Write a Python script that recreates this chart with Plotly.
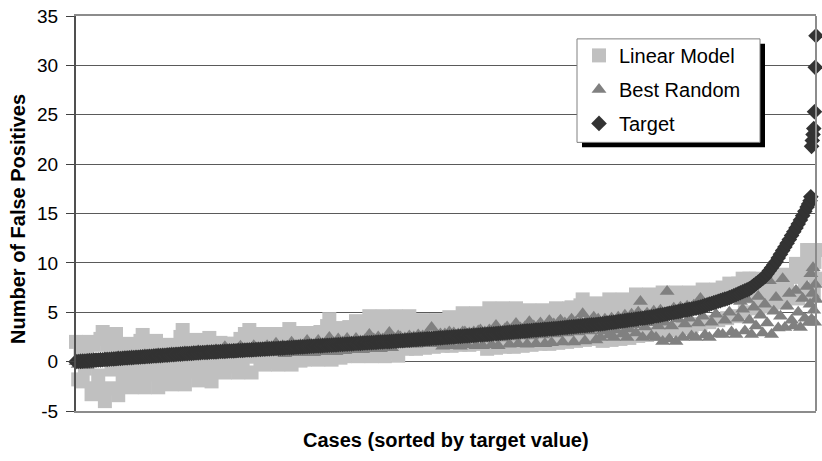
import plotly.graph_objects as go

# ---- data -------------------------------------------------------------
# case rank (cases sorted by target value), sampled every 3rd case plus the last ten
case_rank = list(range(1, 989, 3)) + [990, 992, 993, 994, 995, 996, 997, 998, 999, 1000]

target = [
    0.00, 0.02, 0.03, 0.05, 0.06, 0.08, 0.10, 0.11, 0.13, 0.15,
    0.16, 0.18, 0.19, 0.21, 0.23, 0.24, 0.26, 0.27, 0.29, 0.31,
    0.32, 0.34, 0.36, 0.37, 0.39, 0.40, 0.42, 0.44, 0.45, 0.47,
    0.49, 0.50, 0.52, 0.53, 0.55, 0.57, 0.58, 0.60, 0.61, 0.63,
    0.65, 0.66, 0.68, 0.70, 0.71, 0.73, 0.74, 0.76, 0.78, 0.79,
    0.81, 0.82, 0.84, 0.86, 0.87, 0.89, 0.90, 0.92, 0.93, 0.94,
    0.95, 0.97, 0.98, 0.99, 1.00, 1.02, 1.03, 1.04, 1.05, 1.07,
    1.08, 1.09, 1.10, 1.12, 1.13, 1.14, 1.15, 1.17, 1.18, 1.19,
    1.20, 1.22, 1.23, 1.24, 1.25, 1.27, 1.28, 1.29, 1.30, 1.32,
    1.33, 1.34, 1.35, 1.37, 1.38, 1.40, 1.41, 1.42, 1.44, 1.45,
    1.47, 1.48, 1.49, 1.51, 1.52, 1.54, 1.55, 1.56, 1.58, 1.59,
    1.60, 1.62, 1.63, 1.65, 1.66, 1.67, 1.69, 1.70, 1.72, 1.73,
    1.74, 1.76, 1.77, 1.79, 1.80, 1.81, 1.83, 1.84, 1.85, 1.87,
    1.88, 1.90, 1.91, 1.92, 1.94, 1.95, 1.97, 1.98, 1.99, 2.01,
    2.02, 2.03, 2.05, 2.06, 2.08, 2.09, 2.11, 2.12, 2.14, 2.16,
    2.17, 2.19, 2.21, 2.22, 2.24, 2.26, 2.27, 2.29, 2.31, 2.32,
    2.34, 2.36, 2.37, 2.39, 2.41, 2.42, 2.44, 2.46, 2.47, 2.49,
    2.51, 2.52, 2.54, 2.56, 2.57, 2.59, 2.61, 2.62, 2.64, 2.66,
    2.67, 2.69, 2.71, 2.73, 2.75, 2.76, 2.78, 2.80, 2.82, 2.84,
    2.86, 2.88, 2.90, 2.92, 2.94, 2.96, 2.98, 3.00, 3.02, 3.03,
    3.05, 3.07, 3.09, 3.11, 3.13, 3.15, 3.17, 3.19, 3.21, 3.23,
    3.25, 3.27, 3.28, 3.30, 3.32, 3.34, 3.36, 3.38, 3.41, 3.43,
    3.45, 3.47, 3.50, 3.52, 3.54, 3.56, 3.58, 3.61, 3.63, 3.65,
    3.67, 3.70, 3.72, 3.74, 3.76, 3.78, 3.81, 3.84, 3.87, 3.90,
    3.93, 3.96, 3.99, 4.02, 4.06, 4.09, 4.12, 4.15, 4.18, 4.21,
    4.24, 4.27, 4.30, 4.33, 4.37, 4.40, 4.43, 4.46, 4.49, 4.53,
    4.57, 4.62, 4.66, 4.71, 4.75, 4.80, 4.84, 4.89, 4.93, 4.98,
    5.02, 5.06, 5.11, 5.15, 5.20, 5.24, 5.29, 5.33, 5.38, 5.42,
    5.47, 5.52, 5.60, 5.67, 5.74, 5.82, 5.89, 5.96, 6.04, 6.11,
    6.18, 6.26, 6.33, 6.40, 6.48, 6.57, 6.67, 6.77, 6.87, 6.97,
    7.07, 7.17, 7.27, 7.37, 7.52, 7.70, 7.88, 8.06, 8.24, 8.42,
    8.60, 8.90, 9.20, 9.50, 9.80, 10.12, 10.50, 10.87, 11.25, 11.62,
    12.00, 12.37, 12.76, 13.15, 13.54, 13.94, 14.35, 14.78, 15.22, 15.65,
    15.95, 16.30, 16.70, 21.80, 22.40, 23.00, 23.60, 25.30, 29.80, 33.00,
]

linear_model = [
    2.0, -1.8, 0.7, -2.0, -0.7, 1.4, 2.0, -3.3, 1.7, -2.7,
    -1.4, 2.3, 3.0, -4.0, 1.7, -2.7, -0.8, 2.1, 2.8, -3.4,
    1.5, -2.1, -0.8, 1.2, 1.8, -2.6, 1.4, -1.3, -0.4, 2.1,
    2.7, -2.6, 1.4, -1.3, -0.2, 1.6, 2.1, -2.6, 1.4, -1.3,
    -0.1, 1.3, 1.7, -2.3, 1.2, -1.0, 0.0, 2.5, 3.2, -2.3,
    1.9, -1.0, 0.0, 1.6, 2.2, -1.9, 1.5, -0.7, 0.2, 1.8,
    2.4, -2.0, 1.6, -0.7, 0.2, 1.9, 1.8, -1.1, 1.8, 0.1,
    -0.5, 1.8, 1.8, -1.1, 2.3, 0.2, 2.8, 2.0, 3.2, -1.1,
    2.3, 0.5, 2.3, 0.0, 2.8, -0.3, 2.2, 0.4, 2.6, 0.0,
    2.8, -0.3, 2.2, 0.5, 2.7, 0.1, 3.3, -0.3, 2.2, 0.5,
    2.8, 0.1, 2.9, 0.2, 2.4, 0.6, 2.7, 0.4, 2.9, 0.2,
    3.0, 0.6, 2.5, 3.6, 4.3, 0.2, 2.6, 0.6, 3.0, 0.4,
    3.4, 0.55, 2.9, 3.5, 2.6, 0.8, 4.1, 0.55, 2.9, 3.5,
    2.7, 0.9, 4.6, 0.55, 3.4, 4.0, 2.8, 0.9, 4.6, 0.55,
    3.4, 4.0, 2.9, 1.0, 4.6, 0.6, 3.4, 4.0, 2.9, 1.3,
    4.6, 3.7, 3.4, 1.3, 3.1, 3.7, 4.2, 1.4, 3.2, 3.8,
    3.3, 1.5, 4.2, 3.6, 3.3, 1.6, 4.0, 3.5, 4.5, 1.6,
    3.6, 4.3, 3.5, 1.7, 4.9, 4.2, 3.6, 1.7, 4.4, 3.7,
    4.9, 1.8, 4.1, 4.8, 3.8, 1.3, 5.4, 4.6, 4.1, 1.4,
    4.9, 3.9, 5.4, 1.5, 4.1, 4.7, 4.0, 1.5, 5.4, 4.6,
    4.1, 1.6, 4.6, 4.1, 5.2, 1.7, 4.0, 4.6, 4.3, 1.8,
    5.2, 4.5, 4.2, 1.8, 4.7, 4.3, 5.4, 1.9, 4.3, 4.8,
    4.4, 2.0, 5.4, 5.5, 5.0, 2.1, 4.4, 5.7, 6.3, 2.2,
    5.0, 4.6, 5.4, 2.3, 5.9, 4.8, 5.0, 2.1, 5.6, 4.6,
    6.3, 2.2, 5.1, 5.7, 4.8, 2.3, 6.3, 5.9, 5.5, 2.4,
    5.0, 6.2, 6.8, 2.6, 5.5, 5.1, 6.2, 2.7, 6.8, 5.7,
    5.5, 2.8, 6.2, 5.6, 7.0, 3.0, 5.7, 6.4, 5.9, 3.2,
    7.0, 6.2, 5.8, 3.4, 6.5, 6.0, 7.0, 3.6, 6.0, 6.6,
    6.2, 3.8, 7.3, 6.7, 6.4, 4.0, 7.0, 6.6, 7.3, 4.2,
    7.0, 7.5, 7.2, 4.4, 7.9, 7.4, 7.6, 4.6, 7.9, 7.6,
    8.4, 5.0, 7.8, 8.4, 6.6, 7.3, 8.4, 5.4, 7.1, 8.0,
    6.2, 7.6, 8.4, 5.6, 7.1, 8.2, 6.5, 7.7, 8.8, 6.0,
    7.5, 8.6, 6.8, 8.6, 9.9, 6.4, 8.6, 9.6, 7.4, 11.3,
    10.0, 11.3, 7.2, 11.3, 8.9, 11.3, 6.8, 10.1, 11.3, 8.4,
]

best_random = [
    0.0, -0.3, 0.2, -0.2, 0.1, -0.4, 0.2, -0.1, 0.3, -0.2,
    0.1, 0.3, -0.1, 0.4, 0.0, 0.3, -0.1, 0.4, 0.1, 0.5,
    0.0, 0.4, 0.2, 0.5, 0.1, 0.6, 0.2, 0.5, 0.1, 0.6,
    0.3, 0.7, 0.2, 0.6, 0.3, 0.7, 0.4, 0.8, 0.3, 0.7,
    0.4, 0.8, 0.5, 0.9, 0.4, 0.8, 0.5, 0.9, 0.6, 1.0,
    0.5, 0.9, 0.6, 1.0, 0.7, 1.1, 0.6, 1.0, 0.7, 1.1,
    0.6, 1.1, 0.8, 1.2, 0.7, 1.1, 0.8, 1.5, 0.9, 1.2,
    0.7, 1.2, 0.9, 1.3, 1.55, 1.0, 1.3, 0.8, 1.3, 1.0,
    1.6, 1.1, 1.4, 0.9, 1.4, 1.1, 1.6, 1.0, 1.5, 1.2,
    1.85, 1.1, 1.0, 1.6, 0.8, 1.5, 1.2, 1.95, 0.9, 1.6,
    1.3, 1.7, 0.9, 1.6, 2.15, 1.2, 1.7, 0.9, 1.8, 2.15,
    1.3, 1.8, 1.0, 1.9, 2.45, 1.4, 1.9, 1.0, 2.3, 1.5,
    2.0, 1.1, 2.35, 1.6, 2.0, 1.2, 2.35, 1.6, 2.1, 1.2,
    2.2, 1.7, 2.75, 1.3, 2.3, 1.6, 2.5, 1.3, 2.3, 1.8,
    2.4, 2.95, 1.4, 2.4, 1.8, 2.6, 2.5, 1.75, 2.4, 1.8,
    2.6, 1.9, 2.5, 1.75, 2.7, 2.0, 2.6, 1.8, 2.8, 2.0,
    3.45, 1.8, 2.7, 2.1, 2.8, 1.55, 2.8, 2.0, 3.0, 1.6,
    2.9, 2.1, 2.8, 1.55, 3.0, 3.0, 1.7, 2.9, 2.2, 3.0,
    1.6, 3.1, 3.2, 1.6, 3.0, 2.3, 3.2, 1.7, 3.2, 3.65,
    1.6, 3.1, 2.4, 3.3, 3.5, 1.75, 3.3, 2.5, 3.85, 1.8,
    3.4, 2.6, 3.5, 1.75, 4.05, 2.6, 3.6, 1.8, 3.6, 3.9,
    2.7, 1.8, 3.7, 4.15, 1.9, 3.8, 2.8, 3.9, 4.2, 2.0,
    3.9, 2.9, 4.0, 4.3, 2.0, 4.0, 3.0, 4.1, 4.85, 2.1,
    4.2, 3.1, 4.2, 4.5, 2.2, 4.3, 2.45, 3.1, 4.3, 3.5,
    2.7, 4.4, 2.45, 3.2, 4.5, 3.6, 2.8, 4.7, 2.45, 3.3,
    4.8, 3.7, 2.9, 5.0, 6.1, 2.45, 3.5, 4.9, 3.9, 2.6,
    5.1, 2.45, 3.6, 5.2, 2.05, 4.0, 7.1, 2.3, 3.6, 5.4,
    2.05, 4.3, 5.5, 2.45, 3.8, 5.6, 4.4, 2.6, 5.7, 2.45,
    3.9, 6.4, 4.6, 2.7, 5.9, 2.45, 4.0, 6.1, 4.8, 2.8,
    6.2, 2.75, 4.2, 6.4, 5.0, 3.0, 6.6, 2.75, 4.4, 6.1,
    5.3, 3.1, 6.3, 4.2, 2.75, 5.5, 3.6, 6.6, 4.7, 2.9,
    5.8, 3.9, 8.2, 2.75, 5.1, 6.5, 3.4, 4.6, 8.4, 3.45,
    5.6, 6.9, 4.2, 3.6, 7.2, 5.0, 3.45, 6.4, 4.4, 7.6,
    3.95, 5.8, 8.9, 4.3, 6.9, 9.5, 5.2, 4.0, 7.8, 6.3,
]

assert len(case_rank) == len(target) == len(linear_model) == len(best_random)

y_ticks = [-5, 0, 5, 10, 15, 20, 25, 30, 35]
y_tick_labels = ["-5", "0", "5", "10", "15", "20", "25", "30", "35"]

# ---- geometry helpers ---------------------------------------------------
W, H = 822, 461
ML, MR, MT, MB = 76, 6, 14, 50
PW, PH = W - ML - MR, H - MT - MB


def px_x(px):
    return (px - ML) / PW


def px_y(py):
    return (H - MB - py) / PH


FONT = "Liberation Sans, Arial, Helvetica, sans-serif"

fig = go.Figure()

fig.add_trace(go.Scatter(
    x=case_rank, y=linear_model, mode="markers", name="Linear Model",
    legendgroup="lm",
    marker=dict(symbol="square", size=14, color="#c0c0c0", line=dict(width=0)),
    cliponaxis=False,
))
fig.add_trace(go.Scatter(
    x=case_rank, y=best_random, mode="markers", name="Best Random",
    legendgroup="br",
    marker=dict(symbol="triangle-up", size=13, color="#808080", line=dict(width=0)),
    cliponaxis=False,
))
fig.add_trace(go.Scatter(
    x=case_rank, y=target, mode="markers", name="Target",
    legendgroup="tg",
    marker=dict(symbol="diamond", size=12, color="#333333", line=dict(width=0)),
    cliponaxis=False,
))

shapes = [
    # right border of the plot area
    dict(type="line", xref="paper", yref="paper", x0=1, x1=1, y0=0, y1=1,
         line=dict(color="#8c8c8c", width=2), layer="above"),
    # legend drop shadow
    dict(type="rect", xref="paper", yref="paper",
         x0=px_x(582), x1=px_x(765), y0=px_y(146), y1=px_y(42),
         fillcolor="black", line=dict(width=0), layer="above"),
    # legend box
    dict(type="rect", xref="paper", yref="paper",
         x0=px_x(577), x1=px_x(760), y0=px_y(141), y1=px_y(37),
         fillcolor="white", line=dict(color="#808080", width=1), layer="above"),
]

annotations = [
    dict(text="<b>Cases (sorted by target value)</b>", xref="paper", yref="paper",
         x=px_x(446), y=px_y(440), xanchor="center", yanchor="middle",
         showarrow=False, font=dict(family=FONT, size=20, color="black")),
    dict(text="<b>Number of False Positives</b>", xref="paper", yref="paper",
         x=px_x(18), y=px_y(218), xanchor="center", yanchor="middle",
         textangle=-90, showarrow=False,
         font=dict(family=FONT, size=20, color="black")),
]

fig.update_layout(
    width=W, height=H,
    margin=dict(l=ML, r=MR, t=MT, b=MB, pad=0),
    paper_bgcolor="white", plot_bgcolor="white",
    font=dict(family=FONT, size=19, color="black"),
    showlegend=True,
    legend=dict(
        x=px_x(579), y=px_y(34), xanchor="left", yanchor="top",
        bgcolor="rgba(0,0,0,0)", borderwidth=0,
        font=dict(family=FONT, size=20, color="black"),
        traceorder="grouped", tracegroupgap=5,
    ),
    shapes=shapes,
    annotations=annotations,
    xaxis=dict(
        range=[1, 1000], showticklabels=False, ticks="", showgrid=False,
        zeroline=False, showline=True, linecolor="#8c8c8c", linewidth=2,
        mirror=True,
    ),
    yaxis=dict(
        range=[-5, 35], tickvals=y_ticks, ticktext=y_tick_labels,
        ticks="outside", ticklen=8,
        tickwidth=1, tickcolor="#404040", showgrid=True, gridcolor="#5a5a5a",
        gridwidth=1, zeroline=False, showline=True, linecolor="#505050",
        linewidth=2, tickfont=dict(family=FONT, size=19, color="black"),
        ticklabelstandoff=4,
    ),
)

fig.write_html("out.html")
